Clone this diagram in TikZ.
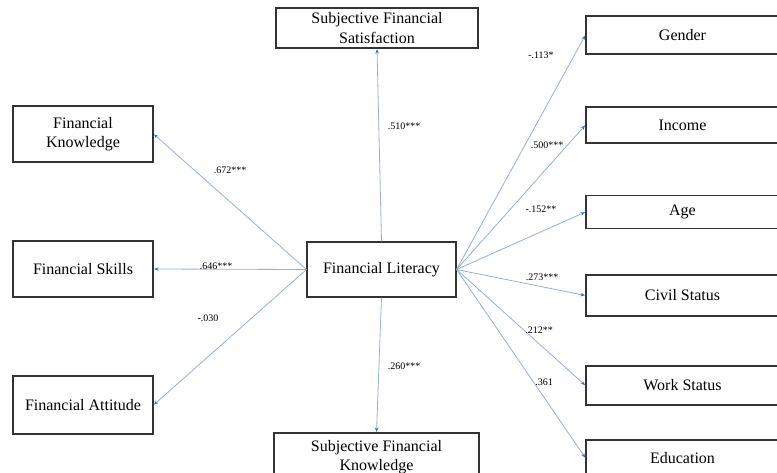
\documentclass[tikz,border=0pt]{standalone}
\usepackage{fontspec}
\setmainfont{Liberation Serif}
\usetikzlibrary{arrows.meta}
\definecolor{linkblue}{HTML}{9AAFD6}
\definecolor{tipblue}{HTML}{4A6FB0}
\definecolor{boxline}{HTML}{333333}
\begin{document}
\begin{tikzpicture}[x=1pt,y=-1pt,
  box/.style={draw=boxline, line width=1.1pt, inner sep=0pt, align=center,
    font=\fontsize{16}{19.5}\selectfont, text=black},
  link/.style={draw=linkblue, line width=0.8pt, -{Stealth[length=4.5pt,width=3.5pt,color=tipblue]}, shorten >=0.5pt},
  coef/.style={font=\fontsize{10}{12}\selectfont, text=black, inner sep=1pt}]
\useasboundingbox (0,0) rectangle (777,472);
\clip (0,0) rectangle (777,472);
\fill[white] (0,0) rectangle (777,472);
% central
\node[box, minimum width=149pt, minimum height=55pt] (fl) at (381.5,269.5) {Financial Literacy};
% top / bottom
\node[box, minimum width=202pt, minimum height=40pt] (sfs) at (377,28) {Subjective Financial\\Satisfaction};
\node[box, minimum width=205pt, minimum height=48pt] (sfk) at (376.5,457) {Subjective Financial\\Knowledge};
% left
\node[box, minimum width=140pt, minimum height=56pt] (fk) at (83,134) {Financial\\Knowledge};
\node[box, minimum width=140pt, minimum height=56pt] (fs) at (83,269) {Financial Skills};
\node[box, minimum width=140pt, minimum height=58pt] (fa) at (83,405) {Financial Attitude};
% right
\node[box, minimum width=193pt, minimum height=38pt] (gen) at (682.5,35) {Gender};
\node[box, minimum width=193pt, minimum height=36pt] (inc) at (682.5,125) {Income};
\node[box, minimum width=193pt, minimum height=33pt] (age) at (682.5,212) {Age};
\node[box, minimum width=193pt, minimum height=41pt] (civ) at (682.5,295.5) {Civil Status};
\node[box, minimum width=193pt, minimum height=39pt] (work) at (682.5,385.5) {Work Status};
\node[box, minimum width=193pt, minimum height=36pt] (edu) at (682.5,458) {Education};
% links
\draw[link] (fl.north) -- (sfs.south);
\draw[link] (fl.south) -- (sfk.north);
\draw[link] (fl.west) -- (fk.east);
\draw[link] (fl.west) -- (fs.east);
\draw[link] (fl.west) -- (fa.east);
\draw[link] (fl.east) -- (gen.west);
\draw[link] (fl.east) -- (inc.west);
\draw[link] (fl.east) -- (age.west);
\draw[link] (fl.east) -- (civ.west);
\draw[link] (fl.east) -- (work.west);
\draw[link] (fl.east) -- (edu.west);
% coefficients
\node[coef] (c1) at (404,126) {.510***};
\node[coef] (c2) at (404,366) {.260***};
\node[coef] (c3) at (230,170) {.672***};
\node[coef] (c4) at (216,266) {.646***};
\node[coef] (c5) at (208,318) {-.030};
\node[coef] (c6) at (541,55) {-.113*};
\node[coef] (c7) at (547,145) {.500***};
\node[coef] (c8) at (541,209) {-.152**};
\node[coef] (c9) at (542,277) {.273***};
\node[coef] (c10) at (539,330) {.212**};
\node[coef] (c11) at (544,382) {.361};
\end{tikzpicture}
\end{document}
